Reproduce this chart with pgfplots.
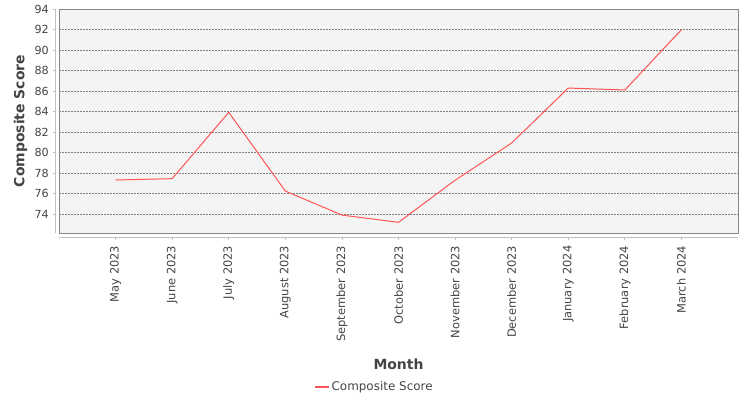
\documentclass[border=0pt]{standalone}
\usepackage{fontspec}
\setmainfont{DejaVu Sans}
\usepackage{pgfplots}
\pgfplotsset{compat=1.18}
\definecolor{seriesred}{HTML}{FF5555}
\definecolor{plotbg}{HTML}{F4F4F4}
\definecolor{framec}{HTML}{888888}
\definecolor{gridc}{HTML}{808080}
\definecolor{axisc}{HTML}{C0C0C0}
\definecolor{txt}{HTML}{444444}
\begin{document}
\begin{tikzpicture}[x=1bp,y=1bp]
\path[use as bounding box] (0,0) rectangle (750,400);
\begin{axis}[
  at={(59bp,167bp)}, anchor=south west,
  scale only axis, width=679bp, height=224bp,
  xmin=-1, xmax=11, ymin=72.15, ymax=94,
  clip=false,
  axis background/.style={fill=plotbg},
  axis line style={draw=framec, line width=0.8bp},
  xtick={0,1,...,10},
  xticklabels={May 2023,June 2023,July 2023,August 2023,September 2023,October 2023,November 2023,December 2023,January 2024,February 2024,March 2024},
  ytick={74,76,...,94},
  major tick length=0pt,
  ymajorgrids,
  grid style={draw=gridc, line width=0.5bp, dash pattern=on 1.5bp off 1.5bp},
  /pgf/number format/assume math mode=true,
  yticklabel style={font=\fontsize{11.2}{13}\selectfont, text=txt, anchor=east, inner sep=0pt, xshift=-10bp},
  xticklabel style={font=\fontsize{11.5}{13}\selectfont, text=txt, rotate=90, anchor=east, inner sep=0pt, inner xsep=12.5bp},
  xlabel={Month},
  ylabel={Composite Score},
  xlabel style={font=\fontsize{14}{16}\selectfont\bfseries, text=txt, at={(axis description cs:0.5,0)}, anchor=center, yshift=-131bp},
  ylabel style={font=\fontsize{14}{16}\selectfont\bfseries, text=txt, at={(axis description cs:0,0.5)}, anchor=center, yshift=38.5bp},
  legend style={at={(axis description cs:0.4647,-0.6875)}, anchor=center, draw=none, fill=none, font=\fontsize{12}{14}\selectfont, inner sep=0pt},
  legend image code/.code={\draw[#1, line width=1.2bp] (0bp,0bp) -- (14bp,0bp);},
]
\addplot[color=seriesred, line width=1bp] coordinates {
  (0,77.32) (1,77.45) (2,83.92) (3,76.24) (4,73.90) (5,73.19)
  (6,77.30) (7,80.93) (8,86.29) (9,86.10) (10,91.98)
};
\addlegendentry{\textcolor{txt}{Composite Score}}
\draw[axisc, line width=0.8bp] ([xshift=-3.5bp]rel axis cs:0,0) -- ([xshift=-3.5bp]rel axis cs:0,1);
\draw[axisc, line width=0.8bp] ([yshift=-4.5bp]rel axis cs:0,0) -- ([yshift=-4.5bp]rel axis cs:1,0);
\pgfplotsinvokeforeach{0,1,2,3,4,5,6,7,8,9,10}{
  \draw[axisc, line width=0.8bp] ([yshift=-4.5bp]axis cs:#1,72.15) -- ([yshift=-7bp]axis cs:#1,72.15);
}
\pgfplotsinvokeforeach{74,76,78,80,82,84,86,88,90,92,94}{
  \draw[axisc, line width=0.8bp] ([xshift=-3.5bp]axis cs:-1,#1) -- ([xshift=-6bp]axis cs:-1,#1);
}
\end{axis}
\end{tikzpicture}
\end{document}
